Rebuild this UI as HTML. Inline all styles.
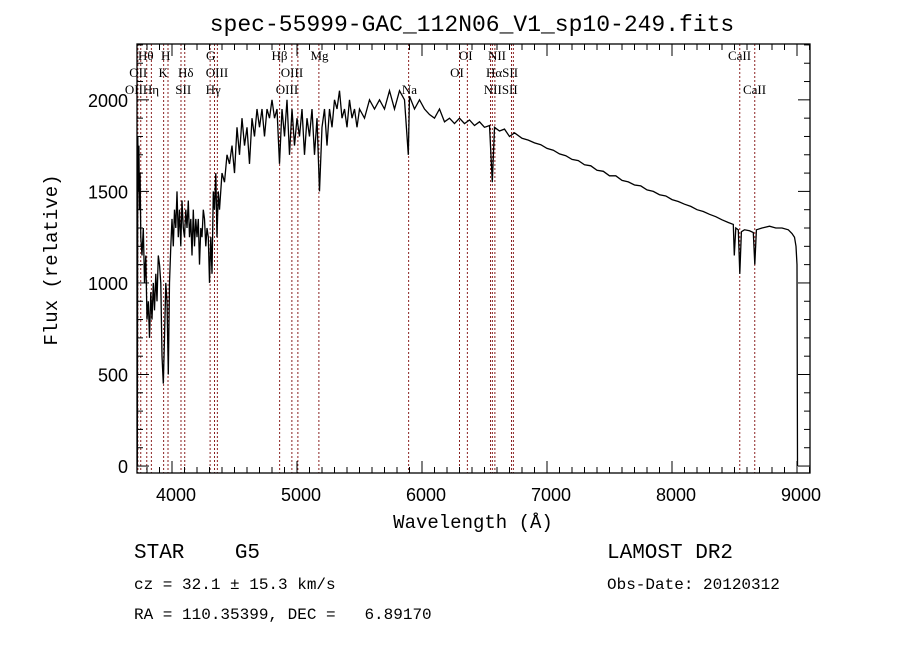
<!DOCTYPE html>
<html><head><meta charset="utf-8"><style>
body{margin:0;background:#fff;}
svg{display:block;}
text{fill:#000;white-space:pre;}
</style></head><body>
<svg id="chart" width="900" height="649" viewBox="0 0 900 649" xml:space="preserve">
<rect x="0" y="0" width="900" height="649" fill="#fff"/>
<text x="472" y="31" font-family="Liberation Mono, monospace" font-size="23" text-anchor="middle">spec-55999-GAC_112N06_V1_sp10-249.fits</text>
<g id="lines"></g>
<g id="labels" font-family="Liberation Serif, serif" font-size="13"></g>
<path id="spec" fill="none" stroke="#000" stroke-width="1.3"/>
<rect x="137" y="44" width="673" height="429" fill="none" stroke="#000" stroke-width="1.3"/>
<g id="ticks"></g>
<g id="xlabels" font-family="Liberation Sans, sans-serif" font-size="18" text-anchor="middle"></g>
<g id="ylabels" font-family="Liberation Sans, sans-serif" font-size="18" text-anchor="end"></g>
<text x="473" y="528" font-family="Liberation Mono, monospace" font-size="19" text-anchor="middle">Wavelength (Å)</text>
<text transform="translate(57,260) rotate(-90)" font-family="Liberation Mono, monospace" font-size="19" text-anchor="middle">Flux (relative)</text>
<text x="134" y="558" font-family="Liberation Mono, monospace" font-size="21">STAR    G5</text>
<text x="134" y="589" font-family="Liberation Mono, monospace" font-size="16">cz = 32.1 ± 15.3 km/s</text>
<text x="134" y="619" font-family="Liberation Mono, monospace" font-size="16">RA = 110.35399, DEC =   6.89170</text>
<text x="607" y="558" font-family="Liberation Mono, monospace" font-size="21">LAMOST DR2</text>
<text x="607" y="589" font-family="Liberation Mono, monospace" font-size="16">Obs-Date: 20120312</text>
</svg>
<script>
const waves=[3722,3726,3730,3735,3740,3745,3750,3760,3770,3780,3790,3800,3810,3820,3830,3840,3850,3860,3870,3880,3890,3900,3910,3920,3930,3940,3950,3960,3970,3980,3990,4000,4010,4020,4030,4040,4050,4060,4070,4080,4090,4100,4110,4120,4130,4140,4150,4160,4170,4180,4190,4200,4210,4220,4230,4240,4250,4260,4270,4280,4290,4300,4310,4320,4330,4340,4350,4360,4370,4380,4400,4420,4440,4460,4480,4500,4520,4540,4560,4580,4600,4620,4640,4660,4680,4700,4720,4740,4760,4780,4800,4820,4840,4860,4880,4900,4920,4940,4960,4980,5000,5020,5040,5060,5080,5100,5120,5140,5160,5180,5200,5220,5240,5260,5280,5300,5320,5340,5360,5380,5400,5420,5440,5460,5480,5500,5540,5580,5620,5660,5700,5740,5780,5820,5860,5890,5900,5940,5980,6020,6060,6100,6140,6180,6220,6260,6300,6340,6380,6420,6460,6500,6540,6562,6580,6620,6660,6700,6740,6800,6850,6900,6950,7000,7050,7100,7150,7200,7250,7300,7350,7400,7450,7500,7550,7600,7650,7700,7750,7800,7850,7900,7950,8000,8050,8100,8150,8200,8250,8300,8350,8400,8450,8490,8498,8510,8530,8542,8555,8580,8620,8650,8662,8675,8720,8780,8830,8880,8930,8960,8980,8992,9000,9004];
const fluxes=[0,1800,1500,1750,1400,1600,1250,1150,1300,1000,1150,800,900,700,950,800,1000,850,1050,900,1150,1100,1000,600,450,700,1000,900,500,1000,1200,1350,1200,1400,1300,1500,1250,1400,1200,1450,1300,1250,1400,1300,1450,1250,1350,1150,1400,1200,1350,1250,1350,1100,1300,1250,1400,1350,1200,1300,1250,1000,1250,1050,1500,1400,1600,1250,1500,1400,1600,1550,1700,1650,1750,1600,1850,1700,1900,1750,1850,1650,1900,1800,1950,1850,1950,1800,1950,1900,2000,1900,1950,1650,1950,1800,2000,1700,1950,1750,1900,1800,1950,1700,1900,1800,1950,1700,1900,1500,1850,1950,1750,1950,1850,2000,1950,2050,1900,1950,1850,2000,1900,1950,1850,1950,1900,2000,1950,2000,1950,2050,1950,2050,2000,1700,2020,1950,2000,1950,1920,1900,1950,1880,1900,1870,1900,1870,1890,1860,1880,1850,1860,1550,1850,1830,1840,1800,1820,1790,1780,1765,1755,1735,1725,1705,1695,1675,1668,1645,1640,1615,1610,1585,1585,1560,1552,1535,1530,1508,1500,1482,1475,1455,1445,1430,1418,1400,1390,1375,1362,1345,1330,1320,1150,1300,1290,1050,1280,1290,1285,1275,1100,1290,1300,1310,1300,1300,1290,1270,1250,1200,1100,0];
const lineWaves=[3727,3750,3798,3835,3933,3968,4072,4102,4305,4340,4363,4861,4959,5007,5175,5893,6300,6363,6548,6563,6583,6716,6731,8542,8662];
const labelText=["Hθ","H","G","Hβ","Mg","OI","NII","CaII","OII","K","Hδ","OIII","OIII","OI","HαSII","CaII","OIIHη","SII","Hγ","OIII","Na","NIISII"];
const labelWave=[3790,3950,4310,4860,5180,6350,6600,8540,3730,3930,4110,4360,4960,6280,6640,8660,3760,4090,4330,4920,5900,6630];
const labelRow=[0,0,0,0,0,0,0,0,1,1,1,1,1,1,1,2,2,2,2,2,2,2];
const xTicks=[4000,5000,6000,7000,8000,9000];
const yTicks=[0,500,1000,1500,2000];

const X0=137,X1=810,Y0=44,Y1=473,WMIN=3720,WMAX=9104,FMIN=-38,FMAX=2305;
const xs=w=>X0+(w-WMIN)/(WMAX-WMIN)*(X1-X0);
const ys=f=>Y1-(f-FMIN)/(FMAX-FMIN)*(Y1-Y0);
const NS="http://www.w3.org/2000/svg";
function mk(t,a,parent){const e=document.createElementNS(NS,t);for(const k in a)e.setAttribute(k,a[k]);parent.appendChild(e);return e;}

const lg=document.getElementById('lines');
lineWaves.forEach(w=>{const l=mk('line',{x1:xs(w),x2:xs(w),y1:Y0,y2:Y1,stroke:'#8b2020','stroke-width':1,'stroke-dasharray':'2,2'},lg);

});

const lb=document.getElementById('labels');
labelText.forEach((t,i)=>{const e=mk('text',{x:xs(labelWave[i]),y:60+labelRow[i]*17,'text-anchor':'middle'},lb);e.textContent=t;

});

let d='';waves.forEach((w,i)=>{d+=(i?'L':'M')+xs(w).toFixed(1)+','+ys(fluxes[i]).toFixed(1);});
document.getElementById('spec').setAttribute('d',d);

const tg=document.getElementById('ticks');
for(let w=3800;w<=9100;w+=100){const big=w%1000===0;
mk('line',{x1:xs(w),x2:xs(w),y1:Y1,y2:Y1-(big?12:6),stroke:'#000'},tg);
mk('line',{x1:xs(w),x2:xs(w),y1:Y0,y2:Y0+(big?12:6),stroke:'#000'},tg);}
for(let f=0;f<=2300;f+=100){const big=f%500===0;
mk('line',{x1:X0,x2:X0+(big?12:6),y1:ys(f),y2:ys(f),stroke:'#000'},tg);
mk('line',{x1:X1,x2:X1-(big?12:6),y1:ys(f),y2:ys(f),stroke:'#000'},tg);}
const xl=document.getElementById('xlabels');
xTicks.forEach(v=>{const e=mk('text',{x:xs(v)+4,y:501},xl);e.textContent=v;

});
const yl=document.getElementById('ylabels');
yTicks.forEach(v=>{const e=mk('text',{x:128,y:ys(v)+7},yl);e.textContent=v;

});
</script>
</body></html>
